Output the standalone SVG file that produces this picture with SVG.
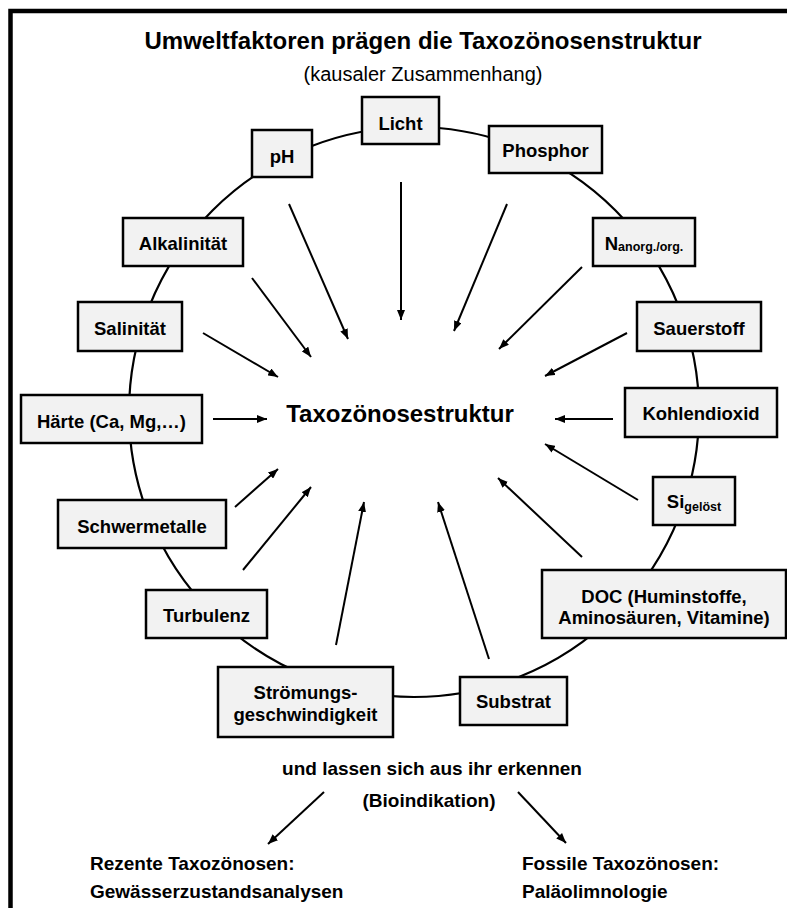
<svg xmlns="http://www.w3.org/2000/svg" width="787" height="908" viewBox="0 0 787 908">
<defs>
<style>
text { font-family: "Liberation Sans", Arial, sans-serif; fill: #000; }
.title { font-size: 24px; font-weight: bold; text-anchor: middle; }
.subtitle { font-size: 20px; text-anchor: middle; }
.center { font-size: 24px; font-weight: bold; text-anchor: middle; }
.foot { font-size: 19px; font-weight: bold; }
.mid { text-anchor: middle; }
.box rect { fill: #f2f2f2; stroke: #000; stroke-width: 2.5; }
.box text { font-size: 18.5px; font-weight: bold; text-anchor: middle; }
.box tspan.sub { font-size: 12.5px; font-weight: bold; }
.ring { fill: none; stroke: #000; stroke-width: 2.2; }
.frame { fill: none; stroke: #000; stroke-width: 4.5; }
.conn line { stroke: #000; stroke-width: 2; marker-end: url(#ah); }
</style>
<marker id="ah" viewBox="0 0 10 8" refX="10" refY="4" markerWidth="10" markerHeight="8" markerUnits="userSpaceOnUse" orient="auto">
<path d="M0,0 L10,4 L0,8 z" fill="#000"/>
</marker>
</defs>
<rect x="0" y="0" width="787" height="908" fill="#fff"/>
<path class="frame" d="M10.5,915 V11 H795"/>
<text class="title" x="423" y="49">Umweltfaktoren prägen die Taxozönosenstruktur</text>
<text class="subtitle" x="423" y="81">(kausaler Zusammenhang)</text>
<circle class="ring" cx="414" cy="412" r="285"/>
<g id="connectors" class="conn">
<line x1="401" y1="182" x2="401" y2="320"/>
<line x1="289" y1="204" x2="348" y2="339"/>
<line x1="507" y1="204" x2="454" y2="331"/>
<line x1="252" y1="278" x2="311" y2="357"/>
<line x1="582" y1="267" x2="499" y2="349"/>
<line x1="203" y1="333" x2="278" y2="377"/>
<line x1="627" y1="333" x2="545" y2="376"/>
<line x1="213" y1="419" x2="267" y2="419"/>
<line x1="613" y1="419" x2="555" y2="419"/>
<line x1="235" y1="507" x2="278" y2="469"/>
<line x1="638" y1="500" x2="545" y2="444"/>
<line x1="243" y1="570" x2="311" y2="487"/>
<line x1="336" y1="645" x2="364" y2="502"/>
<line x1="489" y1="659" x2="438" y2="502"/>
<line x1="582" y1="557" x2="498" y2="478"/>
<line x1="324" y1="792" x2="268" y2="844"/>
<line x1="518" y1="792" x2="566" y2="843"/>
</g>
<g id="licht" class="box"><rect x="362" y="97" width="77" height="47"/><text x="400.5" y="130">Licht</text></g>
<g id="ph" class="box"><rect x="252" y="130" width="60" height="47"/><text x="282" y="163">pH</text></g>
<g id="phosphor" class="box"><rect x="489" y="126" width="113" height="47"/><text x="545.5" y="157">Phosphor</text></g>
<g id="alkalinitaet" class="box"><rect x="123" y="218" width="120" height="48"/><text x="183" y="250">Alkalinität</text></g>
<g id="stickstoff" class="box"><rect x="593" y="218" width="102" height="48"/><text x="644" y="250">N<tspan class="sub" dy="1">anorg./org.</tspan></text></g>
<g id="salinitaet" class="box"><rect x="78" y="302" width="104" height="49"/><text x="130" y="335">Salinität</text></g>
<g id="sauerstoff" class="box"><rect x="637" y="302" width="124" height="49"/><text x="699" y="335">Sauerstoff</text></g>
<g id="haerte" class="box"><rect x="21" y="395" width="181" height="48"/><text x="111.5" y="428">Härte (Ca, Mg,…)</text></g>
<g id="kohlendioxid" class="box"><rect x="625" y="388" width="152" height="49"/><text x="701" y="420">Kohlendioxid</text></g>
<g id="schwermetalle" class="box"><rect x="58" y="500" width="168" height="48"/><text x="142" y="533">Schwermetalle</text></g>
<g id="silizium" class="box"><rect x="653" y="477" width="82" height="48"/><text x="694" y="508">Si<tspan class="sub" dy="3">gelöst</tspan></text></g>
<g id="doc" class="box"><rect x="542" y="570" width="244" height="68"/><text x="664" y="603">DOC (Huminstoffe,</text><text x="664" y="624">Aminosäuren, Vitamine)</text></g>
<g id="turbulenz" class="box"><rect x="146" y="590" width="121" height="48"/><text x="206.5" y="622">Turbulenz</text></g>
<g id="stroemung" class="box"><rect x="218" y="667" width="175" height="70"/><text x="305.5" y="699">Strömungs-</text><text x="305.5" y="721">geschwindigkeit</text></g>
<g id="substrat" class="box"><rect x="460" y="677" width="107" height="48"/><text x="513.5" y="708">Substrat</text></g>
<g id="taxozoenose"><text class="center" x="400" y="422">Taxozönosestruktur</text></g>
<g id="bioindikation">
<text class="foot mid" x="432" y="775">und lassen sich aus ihr erkennen</text>
<text class="foot mid" x="429" y="807">(Bioindikation)</text>
</g>
<g id="rezent">
<text class="foot" x="90" y="870">Rezente Taxozönosen:</text>
<text class="foot" x="90" y="898">Gewässerzustandsanalysen</text>
</g>
<g id="fossil">
<text class="foot" x="522" y="870">Fossile Taxozönosen:</text>
<text class="foot" x="522" y="898">Paläolimnologie</text>
</g>
</svg>
